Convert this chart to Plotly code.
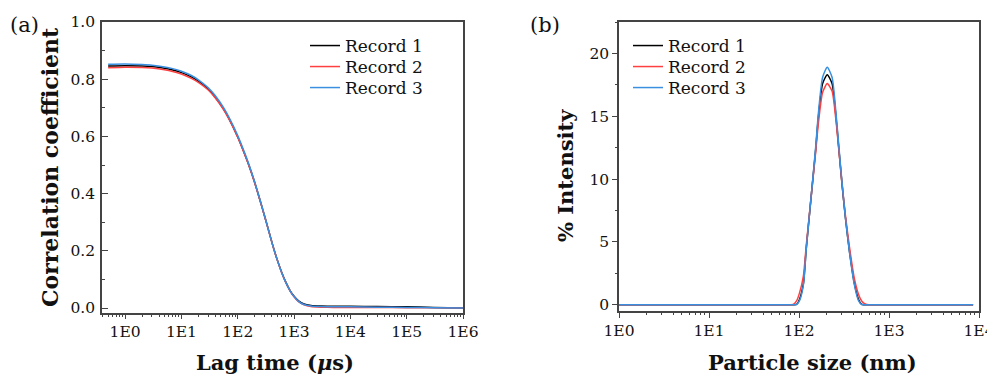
import plotly.graph_objects as go

# ---------------- Panel (a): correlation functions ----------------
lag_time_us = [0.5, 1, 2, 3, 5, 7, 10, 15, 20, 30, 40, 55, 70, 100, 130, 160, 200, 250,
               300, 350, 420, 500, 600, 700, 850, 1000, 1200, 1500, 2000, 3000, 5000,
               1e4, 3e4, 1e5, 3e5, 1e6]
corr_rec1 = [0.846, 0.847, 0.846, 0.844, 0.838, 0.832, 0.823, 0.808, 0.793, 0.765, 0.737,
             0.698, 0.662, 0.598, 0.543, 0.496, 0.439, 0.375, 0.321, 0.274, 0.218, 0.170,
             0.126, 0.094, 0.061, 0.041, 0.025, 0.014, 0.009, 0.007, 0.006, 0.006, 0.005,
             0.004, 0.002, 0.000]
corr_rec2 = [0.840, 0.842, 0.841, 0.839, 0.833, 0.827, 0.818, 0.803, 0.789, 0.762, 0.734,
             0.696, 0.660, 0.597, 0.542, 0.495, 0.438, 0.375, 0.321, 0.274, 0.218, 0.170,
             0.125, 0.093, 0.060, 0.039, 0.022, 0.011, 0.005, 0.003, 0.002, 0.002, 0.002,
             0.001, 0.001, 0.000]
corr_rec3 = [0.852, 0.853, 0.851, 0.849, 0.843, 0.837, 0.828, 0.813, 0.798, 0.770, 0.742,
             0.703, 0.667, 0.603, 0.547, 0.499, 0.441, 0.377, 0.322, 0.274, 0.218, 0.170,
             0.125, 0.093, 0.060, 0.040, 0.023, 0.012, 0.007, 0.005, 0.004, 0.004, 0.003,
             0.002, 0.001, 0.000]

# ---------------- Panel (b): size distributions ----------------
size_nm = [1, 10, 50, 80, 86, 94, 101, 112, 120, 130, 141, 153, 164, 183, 206, 233, 258,
           278, 300, 327, 362, 412, 460, 497, 530, 565, 700, 1000, 3000, 8600]
int_rec1 = [0, 0, 0, 0, 0, 0.02, 0.4, 1.72, 4.37, 7.0, 9.66, 12.3, 14.9, 17.6, 18.3, 17.6,
            14.9, 12.3, 9.66, 7.0, 4.37, 1.72, 0.4, 0.02, 0, 0, 0, 0, 0, 0]
int_rec2 = [0, 0, 0, 0, 0.02, 0.3, 0.9, 2.3, 4.6, 7.1, 9.6, 12.1, 14.4, 16.9, 17.6, 17.0,
            14.6, 12.2, 9.7, 7.2, 4.7, 2.1, 0.8, 0.3, 0.1, 0.02, 0, 0, 0, 0]
int_rec3 = [0, 0, 0, 0, 0, 0.02, 0.3, 1.6, 4.3, 7.0, 9.7, 12.5, 15.2, 18.1, 18.9, 18.1,
            15.2, 12.5, 9.8, 7.0, 4.3, 1.6, 0.3, 0.02, 0, 0, 0, 0, 0, 0]

record_names = ["Record 1", "Record 2", "Record 3"]
record_colors = ["#000000", "#ff4040", "#3a8fe0"]

x_major_a = [1, 10, 100, 1000, 1e4, 1e5, 1e6]
x_labels_a = ["1E0", "1E1", "1E2", "1E3", "1E4", "1E5", "1E6"]
x_major_b = [1, 10, 100, 1000, 1e4]
x_labels_b = ["1E0", "1E1", "1E2", "1E3", "1E4"]

FONT = "DejaVu Serif"
OFF = 8  # page body margin offset
W, H = 995, 376
AXC = "#444444"
TXT = "#111111"


def px(xp):
    return (xp - OFF) / W


def py(yp):
    return 1 - (yp - OFF) / H


fig = go.Figure()

legend_rows_y = [28, 49, 70]  # top of each one-item legend (page px)
for i, (name, col, ys) in enumerate(zip(record_names, record_colors,
                                         [corr_rec1, corr_rec2, corr_rec3])):
    fig.add_trace(go.Scatter(x=lag_time_us, y=ys, mode="lines", name=name,
                             line=dict(color=col, width=1.5, shape="spline", smoothing=0.6),
                             xaxis="x", yaxis="y", legend="legend" if i == 0 else f"legend{i+1}"))
for i, (name, col, ys) in enumerate(zip(record_names, record_colors,
                                         [int_rec1, int_rec2, int_rec3])):
    fig.add_trace(go.Scatter(x=size_nm, y=ys, mode="lines", name=name,
                             line=dict(color=col, width=1.5, shape="spline", smoothing=0.6),
                             xaxis="x2", yaxis="y2", legend=f"legend{i+4}"))


def minor_log(lo, hi):
    vals = []
    d = lo
    while d < hi:
        for m in range(2, 10):
            vals.append(d * m)
        d *= 10
    return vals


common = dict(showline=True, linecolor=AXC, linewidth=1.5, mirror=True,
              tickcolor=AXC, tickwidth=1.2, showgrid=False, zeroline=False,
              automargin=False, ticklabeloverflow="allow",
              tickfont=dict(family=FONT, size=15.5, color=TXT))

legends = {}
for i in range(6):
    key = "legend" if i == 0 else f"legend{i+1}"
    xl = 305 if i < 3 else 628
    legends[key] = dict(x=px(xl), y=py(legend_rows_y[i % 3]), xanchor="left",
                        yanchor="top", bgcolor="rgba(0,0,0,0)",
                        font=dict(family=FONT, size=17, color=TXT),
                        itemwidth=30, tracegroupgap=0)

fig.update_layout(
    width=W, height=H,
    margin=dict(l=0, r=0, t=0, b=0, autoexpand=False),
    paper_bgcolor="white", plot_bgcolor="white",
    showlegend=True,
    font=dict(family=FONT, color=TXT),
    xaxis=dict(type="log", domain=[px(102), px(463)], range=[-0.41, 6],
               tickvals=x_major_a, ticktext=x_labels_a, ticks="outside", ticklen=4,
               minor=dict(tickvals=minor_log(0.1, 1e6), ticks="outside", ticklen=2.5,
                          tickcolor=AXC, tickwidth=1),
               anchor="y", **common),
    yaxis=dict(domain=[py(313), py(22)], range=[-0.0175, 1.0],
               tickvals=[0, 0.2, 0.4, 0.6, 0.8, 1.0],
               ticktext=["0.0", "0.2", "0.4", "0.6", "0.8", "1.0"],
               ticks="inside", ticklen=6, ticklabelstandoff=2,
               minor=dict(dtick=0.1, tick0=0, ticks="inside", ticklen=3,
                          tickcolor=AXC, tickwidth=1),
               anchor="x", **common),
    xaxis2=dict(type="log", domain=[px(619), px(979)], range=[0, 4],
                tickvals=x_major_b, ticktext=x_labels_b, ticks="outside", ticklen=5,
                minor=dict(tickvals=minor_log(1, 1e4), ticks="outside", ticklen=2.5,
                           tickcolor=AXC, tickwidth=1),
                anchor="y2", **common),
    yaxis2=dict(domain=[py(311), py(22)], range=[-0.5, 22.5],
                tickvals=[0, 5, 10, 15, 20], ticks="outside", ticklen=5,
                minor=dict(dtick=2.5, tick0=0, ticks="outside", ticklen=2.5,
                           tickcolor=AXC, tickwidth=1),
                anchor="x2", **common),
    **legends,
)

fig.add_annotation(text="<b>Correlation coefficient</b>", x=px(50), y=py(167),
                   xref="paper", yref="paper", textangle=-90, showarrow=False,
                   font=dict(family=FONT, size=22, color=TXT),
                   xanchor="center", yanchor="middle")
fig.add_annotation(text="<b>Lag time (<i>μ</i>s)</b>", x=px(275), y=py(362),
                   xref="paper", yref="paper", showarrow=False,
                   font=dict(family=FONT, size=21, color=TXT),
                   xanchor="center", yanchor="middle")
fig.add_annotation(text="<b>% Intensity</b>", x=px(565), y=py(176),
                   xref="paper", yref="paper", textangle=-90, showarrow=False,
                   font=dict(family=FONT, size=21, color=TXT),
                   xanchor="center", yanchor="middle")
fig.add_annotation(text="<b>Particle size (nm)</b>", x=px(812), y=py(362),
                   xref="paper", yref="paper", showarrow=False,
                   font=dict(family=FONT, size=21, color=TXT),
                   xanchor="center", yanchor="middle")
fig.add_annotation(text="(a)", x=px(24), y=py(25), xref="paper", yref="paper",
                   showarrow=False, font=dict(family=FONT, size=21, color=TXT),
                   xanchor="center", yanchor="middle")
fig.add_annotation(text="(b)", x=px(545), y=py(25), xref="paper", yref="paper",
                   showarrow=False, font=dict(family=FONT, size=21, color=TXT),
                   xanchor="center", yanchor="middle")

fig.write_html(
    "out.html",
    post_script="document.documentElement.style.overflow='hidden';"
                "document.body.style.overflow='hidden';",
)
